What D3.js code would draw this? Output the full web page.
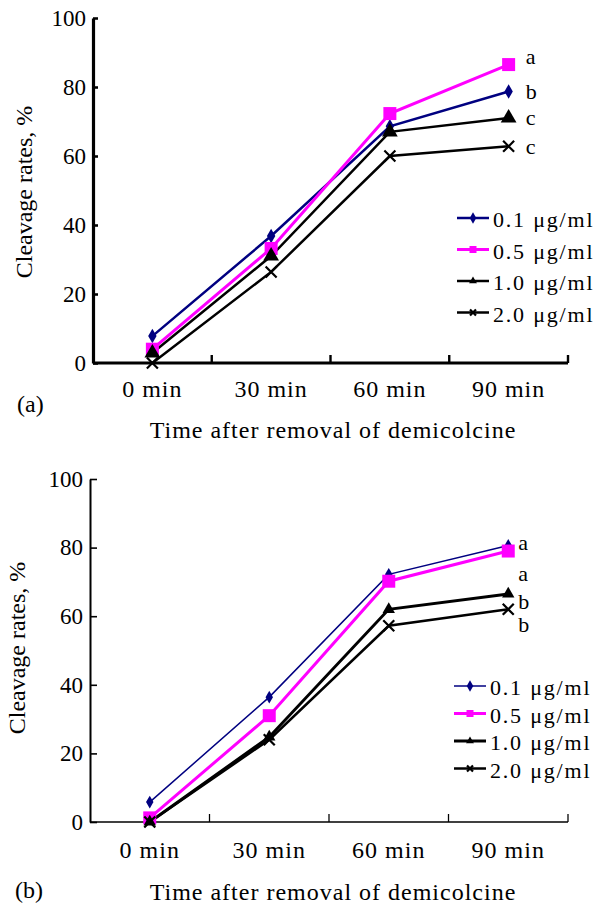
<!DOCTYPE html>
<html>
<head>
<meta charset="utf-8">
<script src="https://cdn.jsdelivr.net/npm/d3@7"></script>
<style>
  body { margin: 0; background: #fff; }
  text { font-family: "Liberation Serif", "DejaVu Serif", "Times New Roman", serif; fill: #000; }
</style>
</head>
<body>
<div id="chart"></div>
<script>
// categories + values
const categories = ["0 min", "30 min", "60 min", "90 min"];
const seriesNames = ["0.1 \u03bcg/ml", "0.5 \u03bcg/ml", "1.0 \u03bcg/ml", "2.0 \u03bcg/ml"];
const yTicks = [0, 20, 40, 60, 80, 100];

// panel (a)
const ratesA_01 = [7.8, 36.8, 68.6, 78.7];
const ratesA_05 = [4.0, 33.2, 72.3, 86.5];
const ratesA_10 = [2.9, 31.0, 67.0, 71.0];
const ratesA_20 = [0.0, 26.4, 60.0, 62.8];
const lettersA = ["a", "b", "c", "c"];
const letterPosA = [88.7, 78.4, 70.8, 62.6];

// panel (b)
const ratesB_01 = [5.8, 36.4, 72.2, 80.6];
const ratesB_05 = [1.2, 31.0, 70.2, 79.0];
const ratesB_10 = [0.0, 24.8, 62.0, 66.5];
const ratesB_20 = [0.0, 24.0, 57.2, 62.0];
const lettersB = ["a", "a", "b", "b"];
const letterPosB = [81.3, 72.3, 64.0, 57.4];

const width = 600
const height = 906
const FONT = "'Liberation Serif', 'DejaVu Serif', serif"

const colors = ["#000080", "#ff00ff", "#000", "#000"];
const symbolsList = ["diamond", "square", "triangle", "x"];

const svg = d3.select("#chart")
    .append("svg")
    .attr("width", width)
    .attr("height", height)
    .style("background", "#fff")

// draws the marker shape centred at 0,0
function marker(g, kind, size, color) {
  if (kind == "x") {
    let h = size / 2
    g.append("path")
      .attr("d", `M${-h},${-h}L${h},${h}M${-h},${h}L${h},${-h}`)
      .attr("stroke", color)
      .attr("stroke-width", 2.2)
      .attr("fill", "none")
  } else {
    let type = kind == "diamond" ? d3.symbolDiamond : (kind == "square" ? d3.symbolSquare : d3.symbolTriangle)
    let area = kind == "square" ? size * size : (kind == "diamond" ? size * size * 0.75 : size * size * 0.55)
    g.append("path")
      .attr("d", d3.symbol().type(type).size(area)())
      .attr("fill", color)
  }
}

function addText(g, size, spacing) {
  return g.append("text")
    .style("font-family", FONT)
    .style("font-size", size + "px")
    .style("letter-spacing", (spacing || 0) + "px")
    .attr("fill", "#000")
}

function drawPanel(p) {
  const x = d3.scaleBand().domain(categories).range([p.left, p.right])
  const y = d3.scaleLinear().domain([0, 100]).range([p.bottom, p.top])
  const cx = d => x(d) + x.bandwidth() / 2

  const g = svg.append("g")

  // y axis, ticks pointing inward
  const yAxis = g.append("g")
    .attr("transform", `translate(${p.left},0)`)
    .call(d3.axisLeft(y).tickValues(yTicks).tickSize(-p.yTick).tickSizeOuter(0).tickPadding(7))
  yAxis.select(".domain").attr("stroke", "#000").attr("stroke-width", p.yAxisW)
  yAxis.selectAll(".tick line").attr("stroke", "#000").attr("stroke-width", p.yAxisW * 0.8)
  yAxis.selectAll(".tick text")
    .style("font-family", FONT)
    .style("font-size", "23px")
    .attr("fill", "#000")

  // x axis, ticks at band edges pointing up
  g.append("line")
    .attr("x1", p.left).attr("x2", p.right)
    .attr("y1", y(0)).attr("y2", y(0))
    .attr("stroke", "#000").attr("stroke-width", p.xAxisW)
  categories.forEach(c => {
    g.append("line")
      .attr("x1", x(c) + x.bandwidth()).attr("x2", x(c) + x.bandwidth())
      .attr("y1", y(0)).attr("y2", y(0) - 8)
      .attr("stroke", "#000").attr("stroke-width", p.xAxisW * 0.8)
    addText(g, 24, 1)
      .attr("x", cx(c))
      .attr("y", p.xLabelY)
      .attr("text-anchor", "middle")
      .text(c)
  })

  // series lines
  const line = d3.line().x((d, i) => cx(categories[i])).y(d => y(d))
  p.series.forEach((vals, si) => {
    g.append("path")
      .datum(vals)
      .attr("d", line)
      .attr("fill", "none")
      .attr("stroke", colors[si])
      .attr("stroke-width", p.lineW[si])
  })
  // markers on top
  p.series.forEach((vals, si) => {
    vals.forEach((v, i) => {
      let m = g.append("g").attr("transform", `translate(${cx(categories[i])},${y(v)})`)
      marker(m, symbolsList[si], p.markSize[si], colors[si])
    })
  })

  // significance letters
  p.letters.forEach((t, i) => {
    addText(g, 22)
      .attr("x", cx(categories[3]) + p.letterDx)
      .attr("y", y(p.letterPos[i]))
      .attr("dy", "0.3em")
      .text(t)
  })

  // legend
  seriesNames.forEach((name, si) => {
    let ly = p.legendY + si * p.legendStep
    g.append("line")
      .attr("x1", p.legendX).attr("x2", p.legendX + 32)
      .attr("y1", ly).attr("y2", ly)
      .attr("stroke", colors[si])
      .attr("stroke-width", p.lineW[si])
    let m = g.append("g").attr("transform", `translate(${p.legendX + 16},${ly})`)
    marker(m, symbolsList[si], symbolsList[si] == "x" ? 6 : 7, colors[si])
    addText(g, 22, 1.8)
      .attr("x", p.legendX + 36)
      .attr("y", ly + 9)
      .text(name)
  })

  // y label
  addText(g, 24)
    .attr("transform", `translate(${p.yLabelX},${p.yLabelY}) rotate(-90)`)
    .attr("text-anchor", "middle")
    .text("Cleavage rates, %")

  // x title and panel tag
  addText(g, 24, 1)
    .attr("x", 333)
    .attr("y", p.titleY)
    .attr("text-anchor", "middle")
    .text("Time after removal of demicolcine")
  addText(g, 24)
    .attr("x", p.tagX)
    .attr("y", p.tagY)
    .text(p.tag)
}

drawPanel({
  left: 93, right: 568, top: 18, bottom: 363,
  yAxisW: 3.2, xAxisW: 3, yTick: 5,
  xLabelY: 397, titleY: 438, tag: "(a)", tagX: 17, tagY: 412,
  yLabelX: 32, yLabelY: 192,
  series: [ratesA_01, ratesA_05, ratesA_10, ratesA_20],
  lineW: [2.5, 3, 2.5, 2.5],
  markSize: [9, 13, 14, 11],
  letters: lettersA, letterPos: letterPosA, letterDx: 17,
  legendX: 457, legendY: 218, legendStep: 31.5
})

drawPanel({
  left: 90, right: 568, top: 479, bottom: 822,
  yAxisW: 2, xAxisW: 1.6, yTick: 7,
  xLabelY: 858, titleY: 900, tag: "(b)", tagX: 15, tagY: 898,
  yLabelX: 25, yLabelY: 648,
  series: [ratesB_01, ratesB_05, ratesB_10, ratesB_20],
  lineW: [1.5, 3, 3, 2.5],
  markSize: [8, 13, 11, 11],
  letters: lettersB, letterPos: letterPosB, letterDx: 10,
  legendX: 454, legendY: 686, legendStep: 27.5
})
</script>
</body>
</html>
